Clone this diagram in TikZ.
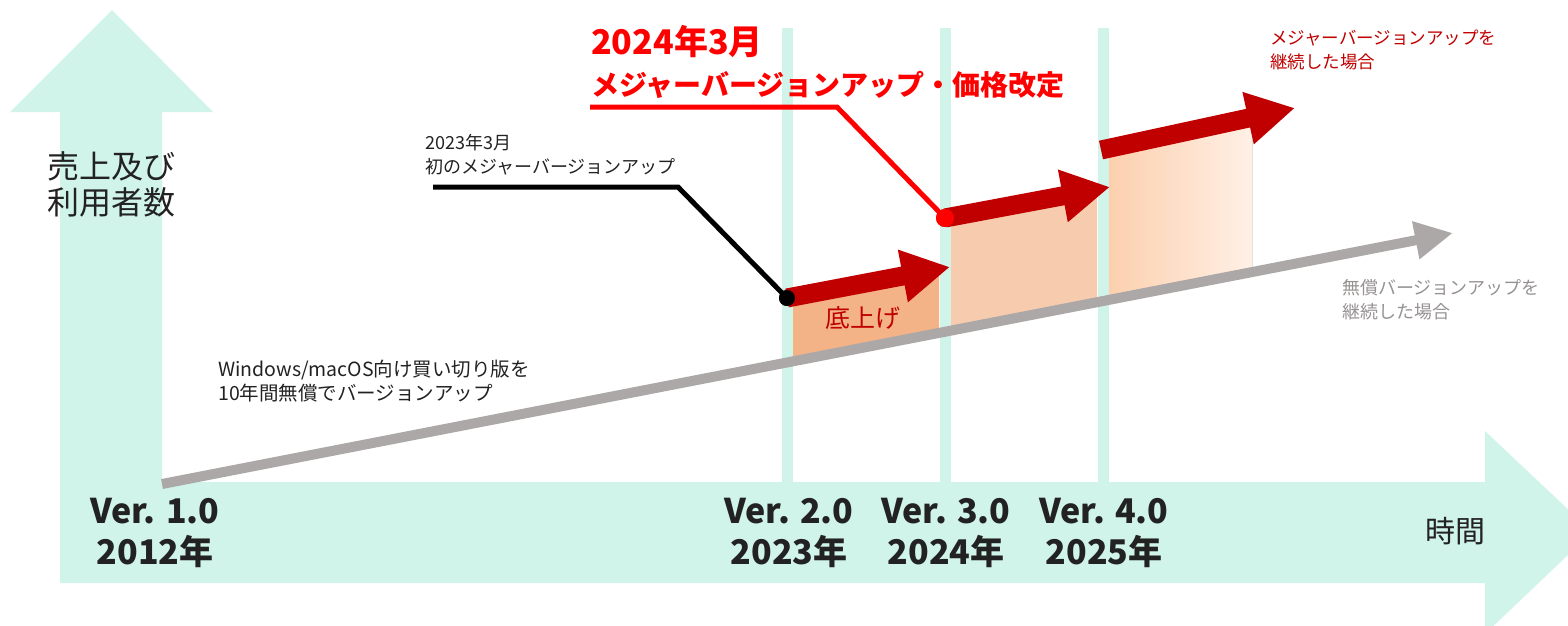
\documentclass[tikz,border=0pt]{standalone}
\usepackage{fontspec}
\setmainfont{Noto Sans CJK JP}
\usetikzlibrary{arrows.meta}
\definecolor{mint}{RGB}{208,244,233}
\definecolor{upred}{RGB}{192,0,0}
\definecolor{linegray}{RGB}{172,168,168}
\definecolor{notegray}{RGB}{150,146,146}
\definecolor{ink}{RGB}{34,34,34}
\definecolor{oraA}{RGB}{244,178,135}
\definecolor{oraB}{RGB}{247,204,174}
\definecolor{oraC}{RGB}{252,208,174}
\definecolor{oraD}{RGB}{255,240,230}
\newcommand{\fsz}[2]{\fontsize{#1}{#2}\selectfont}
\begin{document}
\begin{tikzpicture}[x=1pt,y=-1pt,
  lead/.style={line width=5pt,line join=miter},
  dot/.style={circle,inner sep=0pt,minimum size=#1},
  up/.style={upred,line width=19pt,-{Triangle[length=48pt,width=50pt]}},
  txt/.style={inner sep=0pt,align=left,text=ink,anchor=west},
  ver/.style={inner sep=0pt,align=center,text=ink,font=\fsz{34}{41}\bfseries}]
\useasboundingbox (0,0) rectangle (1568,626);
% axes
\fill[mint] (60,583) -- (60,112) -- (10,112) -- (112,10) -- (213,112) -- (162,112)
  -- (162,482) -- (1485,482) -- (1485,431) -- (1592,532) -- (1485,634) -- (1485,583) -- cycle;
\foreach \x in {787,945,1103}
  \fill[mint] (\x-5.5,28) rectangle (\x+5.5,482);
% raised parts
\fill[oraA] (793,297) -- (939,268) -- (939,334) -- (793,362) -- cycle;
\fill[oraB] (951,217) -- (1097,191) -- (1097,304) -- (951,332) -- cycle;
\fill[left color=oraC,right color=oraD] (1109,149) -- (1252,118) -- (1252,273) -- (1109,301) -- cycle;
% free line
\coordinate (g0) at (162,484);
\coordinate (g1) at (1453,233);
\draw[linegray,line width=10pt,-{Triangle[length=38pt,width=36pt]}] (g0) -- (g1);
% major version arrows
\node[dot=16pt,fill=black] (dotA) at (787,298) {};
\node[dot=18pt,fill=red] (dotB) at (945,218) {};
\coordinate (a1) at (950,267);
\coordinate (a2) at (1110,187);
\coordinate (s3) at (1101,150);
\coordinate (a3) at (1295,108);
\draw[up] (dotA.center) -- (a1);
\draw[up] (dotB.center) -- (a2);
\draw[up] (s3) -- (a3);
% texts
\node[txt,font=\fsz{32}{36}] (ylab) at (47,184) {売上及び\\利用者数};
\node[txt,font=\fsz{18}{24}] (note23) at (425,155) {2023年3月\\初のメジャーバージョンアップ};
\node[txt,anchor=base west,text=red,font=\fsz{34}{41}\bfseries] (title24) at (591,55) {2024年3月};
\node[txt,anchor=base west,text=red,font=\fsz{28}{41}\bfseries] (title24b) at (591,95) {メジャーバージョンアップ・価格改定};
\node[txt,text=upred,font=\fsz{17.5}{24}] (noteMajor) at (1270,50) {メジャーバージョンアップを\\継続した場合};
\node[txt,text=notegray,font=\fsz{18}{24}] (noteFree) at (1342,300) {無償バージョンアップを\\継続した場合};
\node[inner sep=0pt,text=upred,font=\fsz{25}{30}] (noteBase) at (863,318) {底上げ};
\node[txt,font=\fsz{19.5}{24}] (noteWin) at (218,381) {Windows/macOS向け買い切り版を\\10年間無償でバージョンアップ};
\node[ver] (v1) at (155,533) {Ver. 1.0\\2012年};
\node[ver] (v2) at (789,533) {Ver. 2.0\\2023年};
\node[ver] (v3) at (946,533) {Ver. 3.0\\2024年};
\node[ver] (v4) at (1104,533) {Ver. 4.0\\2025年};
\node[inner sep=0pt,text=ink,font=\fsz{30}{36}] (time) at (1455,531) {時間};
% leaders
\coordinate (k23) at (433,187);
\coordinate (j23) at (678,187);
\coordinate (k24) at (590,107);
\coordinate (j24) at (837,107);
\draw[lead,black] (k23) -- (j23) -- (dotA.center);
\draw[lead,red] (k24) -- (j24) -- (dotB.center);
\node[dot=16pt,fill=black] at (dotA) {};
\node[dot=18pt,fill=red] at (dotB) {};
\end{tikzpicture}
\end{document}
